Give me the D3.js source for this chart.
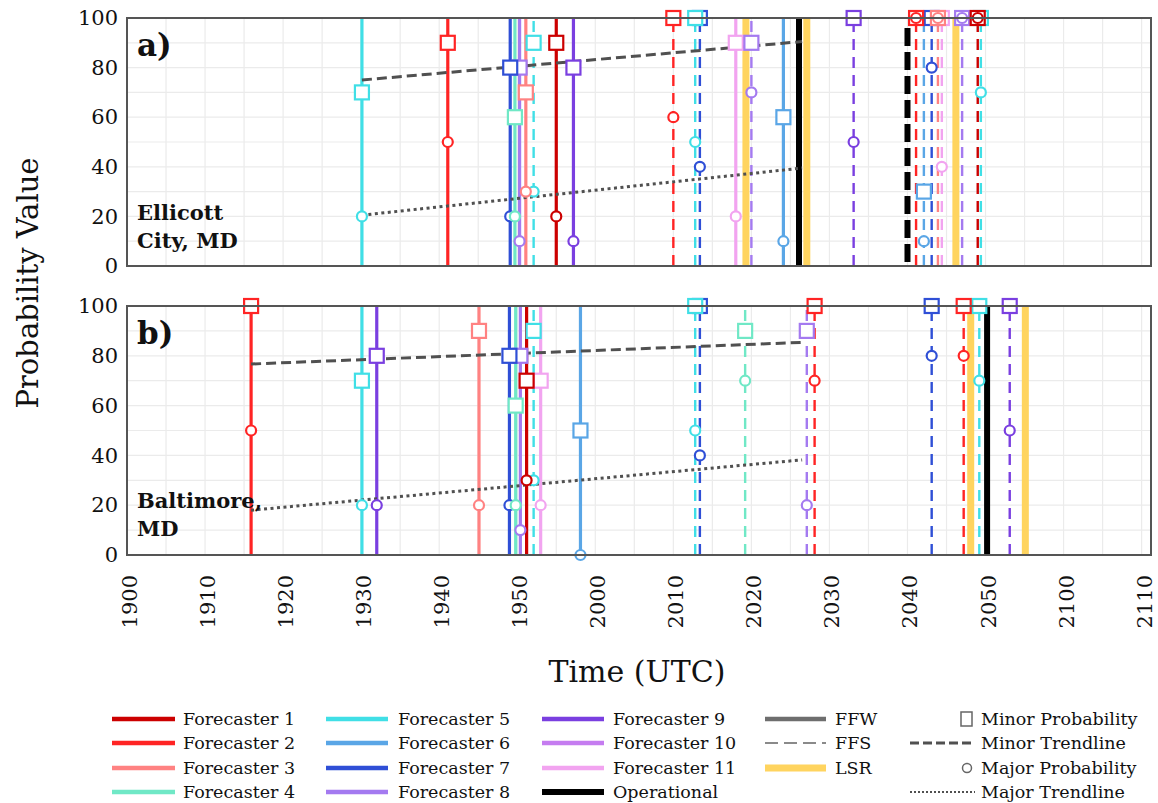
<!DOCTYPE html>
<html><head><meta charset="utf-8">
<script src="https://cdn.jsdelivr.net/npm/d3@7"></script>
<style>
html,body{margin:0;padding:0;background:#fff;}
svg text{font-family:"DejaVu Serif","Liberation Serif",serif;fill:#111;}
</style></head>
<body>
<svg id="chart" width="1158" height="803"></svg>
<script>
// ---------------- DATA ----------------
const forecasterNames = ["Forecaster 1","Forecaster 2","Forecaster 3","Forecaster 4","Forecaster 5","Forecaster 6",
  "Forecaster 7","Forecaster 8","Forecaster 9","Forecaster 10","Forecaster 11","Operational"];
const forecasterColors = ["#cc0000","#ff2424","#ff8282","#70e8c6","#40dfe6","#5aa6e6",
  "#2f4fd6","#a47af0","#7a3fe0","#c57cf0","#f2a4f0","#000000"];
const xTickLabels = ["1900","1910","1920","1930","1940","1950","2000","2010","2020","2030","2040","2050","2100","2110"];
const yTickValues = [0,20,40,60,80,100];
// minutes after 19:00 UTC

// panel a) Ellicott City: [forecaster #, product, minute, minor prob, major prob]
const panelAEvents = [
  [5,"FFW",30.1,70,20],[2,"FFW",41.1,90,50],[7,"FFW",49.1,80,20],[4,"FFW",49.7,60,20],
  [8,"FFW",50.3,80,10],[3,"FFW",51.1,70,30],[5,"FFS",52.1,90,30],[1,"FFW",55.0,90,20],
  [9,"FFW",57.2,80,10],[2,"FFS",70.0,100,60],[5,"FFS",72.8,100,50],[7,"FFS",73.4,100,40],
  [11,"FFW",78.0,90,20],[8,"FFS",80.0,90,70],[6,"FFW",84.1,60,10],[9,"FFS",93.1,100,50],
  [2,"FFS",101.1,100,100],[6,"FFS",102.1,30,10],[7,"FFS",103.1,100,80],[3,"FFS",103.9,100,100],
  [11,"FFS",104.4,100,40],[8,"FFS",107.0,100,100],[1,"FFS",109.0,100,100],[5,"FFS",109.4,100,70]
];
const panelAOperational = [["FFW",86.1],["FFS",100.0]];
const panelALSR = [79.3,87.1,106.2];
const panelAMinorTrend = [[30.1,75],[86.5,90.5]];
const panelAMajorTrend = [[30.1,20.5],[86.5,39.5]];

// panel b) Baltimore
const panelBEvents = [
  [2,"FFW",15.9,100,50],[5,"FFW",30.1,70,20],[9,"FFW",32.0,80,20],[3,"FFW",45.1,90,20],
  [7,"FFW",49.0,80,20],[4,"FFW",49.8,60,20],[8,"FFW",50.4,80,10],[1,"FFW",51.2,70,30],
  [5,"FFS",52.1,90,30],[11,"FFW",53.0,70,20],[6,"FFW",58.1,50,0],[5,"FFS",72.8,100,50],
  [7,"FFS",73.4,100,40],[4,"FFS",79.2,90,70],[8,"FFS",87.1,90,20],[2,"FFS",88.1,100,70],
  [7,"FFS",103.1,100,80],[2,"FFS",107.2,100,80],[5,"FFS",109.2,100,70],[9,"FFS",113.1,100,50]
];
const panelBOperational = [["FFW",110.2]];
const panelBLSR = [108.1,115.1];
const panelBMinorTrend = [[15.9,76.7],[86.5,85.4]];
const panelBMajorTrend = [[15.9,18.0],[86.5,38.2]];

// ---------------- LAYOUT ----------------
const svg = d3.select("#chart");
const L = 127, R = 1151;
const x = d3.scaleLinear().domain([0,131.2]).range([L,R]);
const panels = [
  {top:18, bottom:266, label:"a)", place:["Ellicott","City, MD"], events:panelAEvents, ops:panelAOperational,
   lsr:panelALSR, minor:panelAMinorTrend, major:panelAMajorTrend},
  {top:306, bottom:555, label:"b)", place:["Baltimore,","MD"], events:panelBEvents, ops:panelBOperational,
   lsr:panelBLSR, minor:panelBMinorTrend, major:panelBMajorTrend}
];
const trendColor = "#505050";

panels.forEach((p,pi)=>{
  const y = d3.scaleLinear().domain([0,100]).range([p.bottom,p.top]);
  const g = svg.append("g");
  // grid
  g.append("g").selectAll("line").data(d3.range(5,131,5)).join("line")
    .attr("x1",d=>x(d)).attr("x2",d=>x(d)).attr("y1",p.top).attr("y2",p.bottom)
    .attr("stroke","#ebebeb").attr("stroke-width",1.2);
  g.append("g").selectAll("line").data(d3.range(10,100,10)).join("line")
    .attr("x1",L).attr("x2",R).attr("y1",d=>y(d)).attr("y2",d=>y(d))
    .attr("stroke","#ebebeb").attr("stroke-width",1.2);
  // y axis labels
  const yAxis = d3.axisLeft(y).tickValues(yTickValues).tickSize(0).tickPadding(9);
  const ya = g.append("g").attr("transform",`translate(${L},0)`).call(yAxis);
  ya.select(".domain").remove();
  ya.selectAll("text").attr("font-size",21).attr("font-family","DejaVu Serif").attr("fill","#111");

  // LSR
  g.append("g").selectAll("line").data(p.lsr).join("line")
    .attr("x1",d=>x(d)).attr("x2",d=>x(d)).attr("y1",y(0)).attr("y2",y(100))
    .attr("stroke","#ffd45f").attr("stroke-width",7);
  // operational
  g.append("g").selectAll("line").data(p.ops).join("line")
    .attr("x1",d=>x(d[1])).attr("x2",d=>x(d[1]))
    .attr("y1",d=>d[0]==="FFS"?y(0)-4:y(0)).attr("y2",d=>d[0]==="FFS"?y(100)+6:y(100))
    .attr("stroke","#000").attr("stroke-width",6)
    .attr("stroke-dasharray",d=>d[0]==="FFS"?"18,6":null);

  // forecaster lines (draw higher forecaster numbers first)
  const ev = p.events.slice().sort((a,b)=>b[0]-a[0]);
  g.append("g").selectAll("line").data(ev).join("line")
    .attr("x1",d=>x(d[2])).attr("x2",d=>x(d[2])).attr("y1",y(0)).attr("y2",y(100))
    .attr("stroke",d=>forecasterColors[d[0]-1])
    .attr("stroke-width",d=>d[1]==="FFW"?3.2:2.4)
    .attr("stroke-dasharray",d=>d[1]==="FFS"?"11,7":null);

  // trendlines
  const line = d3.line().x(d=>x(d[0])).y(d=>y(d[1]));
  g.append("path").datum(p.minor).attr("d",line).attr("fill","none")
    .attr("stroke",trendColor).attr("stroke-width",3).attr("stroke-dasharray","10,5");
  g.append("path").datum(p.major).attr("d",line).attr("fill","none")
    .attr("stroke",trendColor).attr("stroke-width",3).attr("stroke-dasharray","3,3.5");

  // markers
  const mg = g.append("g");
  ev.forEach(d=>{
    const c = forecasterColors[d[0]-1];
    mg.append("rect").attr("x",x(d[2])-7).attr("y",y(d[3])-7).attr("width",14).attr("height",14)
      .attr("fill","#fff").attr("stroke",c).attr("stroke-width",2.2);
    mg.append("circle").attr("cx",x(d[2])).attr("cy",y(d[4])).attr("r",5)
      .attr("fill","#fff").attr("stroke",c).attr("stroke-width",2.2);
  });

  // border
  g.append("rect").attr("x",L).attr("y",p.top).attr("width",R-L).attr("height",p.bottom-p.top)
    .attr("fill","none").attr("stroke","#555").attr("stroke-width",2);

  // labels
  g.append("text").attr("x",137).attr("y",p.top+38).attr("font-size",31).attr("font-weight","bold").text(p.label);
  g.append("text").attr("x",137).attr("y",p.top+202).attr("font-size",21).attr("font-weight","bold").text(p.place[0]);
  g.append("text").attr("x",137).attr("y",p.top+230).attr("font-size",21).attr("font-weight","bold").text(p.place[1]);

  if(pi===1){
    const xa = g.append("g");
    xa.selectAll("text").data(xTickLabels).join("text")
      .attr("transform",(d,i)=>`translate(${x(i*10)+10},575) rotate(-90)`)
      .attr("text-anchor","end").attr("font-size",21).text(d=>d);
  }
});

// axis titles
svg.append("text").attr("transform","translate(38,283) rotate(-90)").attr("text-anchor","middle")
  .attr("font-size",29).text("Probability Value");
svg.append("text").attr("x",637).attr("y",682).attr("text-anchor","middle").attr("font-size",30).text("Time (UTC)");

// ---------------- LEGEND ----------------
const lg = svg.append("g").attr("font-size",17.5);
const rowsY = [719,743,768,792];
const colX = [[112,175,183],[326,388,398],[542,604,613]];
for(let i=0;i<12;i++){
  const col = Math.floor(i/4), row = i%4;
  const [x1,x2,tx] = colX[col];
  lg.append("line").attr("x1",x1).attr("x2",x2).attr("y1",rowsY[row]).attr("y2",rowsY[row])
    .attr("stroke",forecasterColors[i]).attr("stroke-width",i===11?6:4.5);
  lg.append("text").attr("x",tx).attr("y",rowsY[row]).attr("dy","0.35em").text(forecasterNames[i]);
}
// product types
const prodItems = [["FFW","#6e6e6e",4.5,null],["FFS","#8a8a8a",2.2,"13,6"],["LSR","#ffd45f",7,null]];
prodItems.forEach((d,i)=>{
  lg.append("line").attr("x1",765).attr("x2",826).attr("y1",rowsY[i]).attr("y2",rowsY[i])
    .attr("stroke",d[1]).attr("stroke-width",d[2]).attr("stroke-dasharray",d[3]);
  lg.append("text").attr("x",835).attr("y",rowsY[i]).attr("dy","0.35em").text(d[0]);
});
// markers & trendlines
lg.append("rect").attr("x",961).attr("y",rowsY[0]-7).attr("width",11).attr("height",14)
  .attr("fill","#fff").attr("stroke","#666").attr("stroke-width",1.5);
lg.append("text").attr("x",981).attr("y",rowsY[0]).attr("dy","0.35em").text("Minor Probability");
lg.append("line").attr("x1",910).attr("x2",975).attr("y1",rowsY[1]).attr("y2",rowsY[1])
  .attr("stroke",trendColor).attr("stroke-width",3).attr("stroke-dasharray","9,4");
lg.append("text").attr("x",981).attr("y",rowsY[1]).attr("dy","0.35em").text("Minor Trendline");
lg.append("circle").attr("cx",967).attr("cy",rowsY[2]).attr("r",4.5)
  .attr("fill","#fff").attr("stroke","#666").attr("stroke-width",1.5);
lg.append("text").attr("x",981).attr("y",rowsY[2]).attr("dy","0.35em").text("Major Probability");
lg.append("line").attr("x1",910).attr("x2",975).attr("y1",rowsY[3]).attr("y2",rowsY[3])
  .attr("stroke",trendColor).attr("stroke-width",2).attr("stroke-dasharray","2,2");
lg.append("text").attr("x",981).attr("y",rowsY[3]).attr("dy","0.35em").text("Major Trendline");
</script>
</body></html>
